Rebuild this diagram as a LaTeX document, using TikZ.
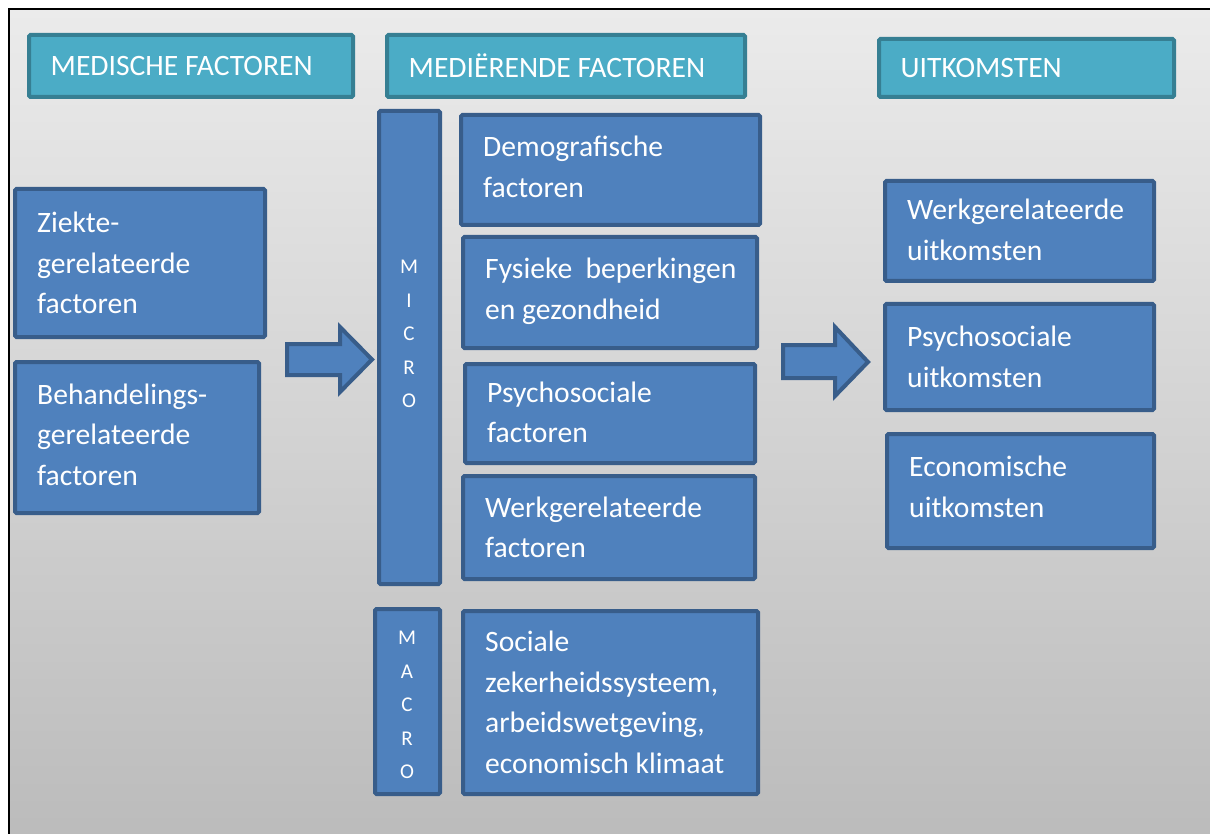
\documentclass[tikz,border=0pt]{standalone}
\usepackage{fontspec}
\setmainfont{Carlito}
\usetikzlibrary{fit}
\definecolor{bfill}{HTML}{4F81BD}
\definecolor{bline}{HTML}{385D8A}
\definecolor{tfill}{HTML}{4BACC6}
\definecolor{tline}{HTML}{367F93}
\definecolor{bgtop}{HTML}{EBEBEB}
\definecolor{bgbot}{HTML}{BBBBBB}
\tikzset{
  bluebox/.style={draw=bline, fill=bfill, line width=4pt, rounded corners=1.5pt, inner sep=0pt},
  tealbox/.style={draw=tline, fill=tfill, line width=4pt, rounded corners=1.5pt, inner sep=0pt},
  txt/.style={text=white, inner sep=0pt, align=left, font=\fontsize{29.6}{40.5}\selectfont},
  vtxt/.style={text=white, inner sep=0pt, align=center, font=\fontsize{21}{33.4}\selectfont},
  blockarrow/.style={draw=bline, fill=bfill, line width=4pt, line join=miter},
}
\begin{document}
\begin{tikzpicture}[x=1pt,y=-1pt]
\useasboundingbox (0,0) rectangle (1210,834);
% background frame
\shade[top color=bgtop, bottom color=bgbot] (9,9) rectangle (1220,844);
\draw[line width=2pt, black] (9,846) -- (9,9) -- (1222,9);

% headers
\node[tealbox, fit={(29,35)(353,97)}] (h1) {};
\node[txt, anchor=west] (h1t) at ([xshift=23.5]h1.west) {MEDISCHE FACTOREN};
\node[tealbox, fit={(387,35)(745,97)}] (h2) {};
\node[txt, anchor=west] (h2t) at ([xshift=23.5]h2.west) {MEDIËRENDE FACTOREN};
\node[tealbox, fit={(879,39)(1174,97)}] (h3) {};
\node[txt, anchor=west] (h3t) at ([xshift=23.5]h3.west) {UITKOMSTEN};

% medische factoren
\node[bluebox, fit={(15,189)(265,337)}] (zie) {};
\node[txt, anchor=west] (ziet) at ([xshift=24]zie.west) {Ziekte-\\gerelateerde\\factoren};
\node[bluebox, fit={(15,362)(259,513)}] (beh) {};
\node[txt, anchor=west] (beht) at ([xshift=24,yshift=3]beh.west) {Behandelings-\\gerelateerde\\factoren};

% micro / macro bars
\node[bluebox, fit={(379,111)(440,584)}] (micro) {};
\node[vtxt] (microt) at (409,334) {M\\I\\C\\R\\O};
\node[bluebox, fit={(375,609)(440,794)}] (macro) {};
\node[vtxt] (macrot) at (407,705) {M\\A\\C\\R\\O};

% mediating factors
\node[bluebox, fit={(461,115)(760,225)}] (demo) {};
\node[txt, anchor=west] (demot) at ([xshift=24,yshift=3]demo.west) {Demografische\\factoren};
\node[bluebox, fit={(463,237)(757,348)}] (fys) {};
\node[txt, anchor=west] (fyst) at ([xshift=24,yshift=1]fys.west) {Fysieke\ \ beperkingen\\en gezondheid};
\node[bluebox, fit={(465,364)(755,463)}] (psy) {};
\node[txt, anchor=west] (psyt) at ([xshift=24,yshift=1]psy.west) {Psychosociale\\factoren};
\node[bluebox, fit={(463,476)(755,579)}] (werk) {};
\node[txt, anchor=west] (werkt) at ([xshift=24]werk.west) {Werkgerelateerde\\factoren};
\node[bluebox, fit={(463,611)(758,794)}] (soc) {};
\node[txt, anchor=west] (soct) at ([xshift=24]soc.west) {Sociale\\zekerheidssysteem,\\arbeidswetgeving,\\economisch klimaat};

% outcomes
\node[bluebox, fit={(885,181)(1154,281)}] (uw) {};
\node[txt, anchor=west] (uwt) at ([xshift=24,yshift=1]uw.west) {Werkgerelateerde\\uitkomsten};
\node[bluebox, fit={(885,304)(1154,410)}] (up) {};
\node[txt, anchor=west] (upt) at ([xshift=24]up.west) {Psychosociale\\uitkomsten};
\node[bluebox, fit={(887,434)(1154,548)}] (ue) {};
\node[txt, anchor=west] (uet) at ([xshift=24,yshift=4]ue.west) {Economische\\uitkomsten};

% block arrows
\draw[blockarrow] (287,344) -- (340,344) -- (340,327) -- (372,359.5) -- (340,392) -- (340,375) -- (287,375) -- cycle;
\draw[blockarrow] (783,345) -- (835,345) -- (835,327) -- (868,362) -- (835,396) -- (835,378) -- (783,378) -- cycle;
\end{tikzpicture}
\end{document}
